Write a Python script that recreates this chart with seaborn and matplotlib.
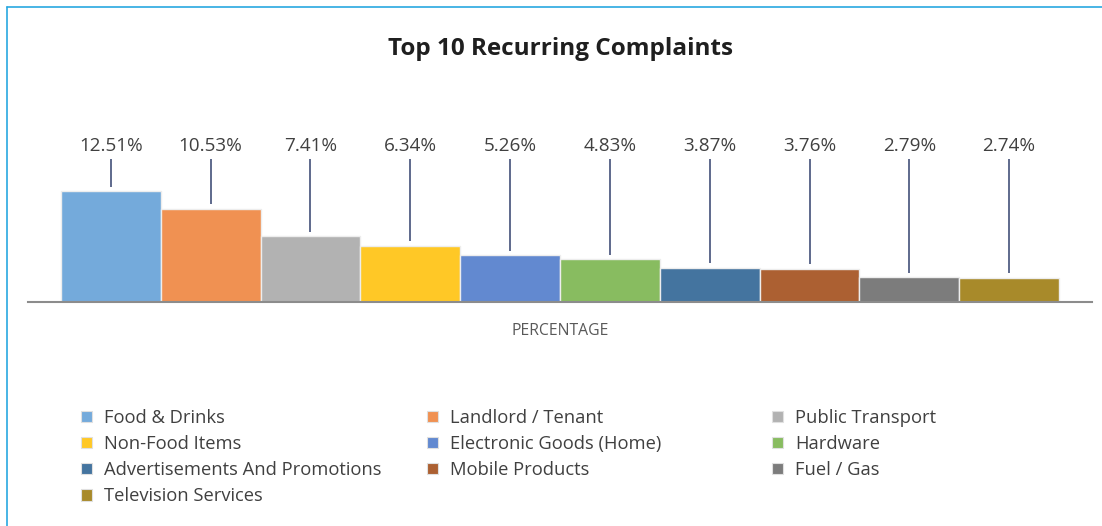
import matplotlib.pyplot as plt
import pandas as pd
import seaborn as sns
from matplotlib.patches import Patch
from matplotlib.lines import Line2D

# chart data
categories = ['Food & Drinks', 'Landlord / Tenant', 'Public Transport', 'Non-Food Items',
              'Electronic Goods (Home)', 'Hardware', 'Advertisements And Promotions',
              'Mobile Products', 'Fuel / Gas', 'Television Services']
values = [12.51, 10.53, 7.41, 6.34, 5.26, 4.83, 3.87, 3.76, 2.79, 2.74]
colors = ['#74AADB', '#F09152', '#B2B2B2', '#FFC826', '#6289D0',
          '#88BC60', '#44749F', '#AC6032', '#7C7C7C', '#A88A2A']
metric = 'PERCENTAGE'

df = pd.DataFrame({'metric': metric, 'category': categories, 'value': values})

sns.set_style('white')
plt.rcParams['font.family'] = ['Open Sans', 'DejaVu Sans']

W, H = 1102, 526
fig = plt.figure(figsize=(W / 100, H / 100), dpi=100)

# axes placed in pixel terms: baseline at y=302, top at y=100
ax_left, ax_right, ax_bottom, ax_top = 28, 1092, 302, 100
ax = fig.add_axes([ax_left / W, 1 - ax_bottom / H, (ax_right - ax_left) / W, (ax_bottom - ax_top) / H])
px_per_unit = 111 / 12.51
ymax = (ax_bottom - ax_top) / px_per_unit

sns.barplot(data=df, x='metric', y='value', hue='category', hue_order=categories,
            palette=colors, width=0.938, saturation=1, edgecolor='#EDEDED',
            linewidth=1, legend=False, ax=ax)
ax.set_xlim(-0.5, 0.5)
ax.set_ylim(0, ymax)

# data labels with leader lines
label_y = (ax_bottom - 146) / px_per_unit
line_top = (ax_bottom - 159) / px_per_unit
for cont in ax.containers:
    for bar in cont:
        xc = bar.get_x() + bar.get_width() / 2
        h = bar.get_height()
        ax.plot([xc, xc], [h + 0.5, line_top], color='#33416E', lw=1.1, solid_capstyle='butt')
        ax.text(xc, label_y, f'{h:.2f}%', ha='center', va='center', fontsize=13.6, color='#404040')

for s in ['top', 'right', 'left']:
    ax.spines[s].set_visible(False)
ax.spines['bottom'].set_color('#8C8C8C')
ax.spines['bottom'].set_linewidth(1.5)
ax.set_yticks([])
ax.set_xlabel('')
ax.set_ylabel('')
ax.tick_params(axis='x', length=0, pad=15, labelsize=11.3, labelcolor='#595959')

fig.text(560 / W, 1 - 49 / H, 'Top 10 Recurring Complaints', ha='center', va='center',
         fontsize=17.5, fontweight='bold', color='#1F1F1F')

# legend in three columns, filled row by row
handles = [Patch(facecolor=c, edgecolor='#E0E0E0', linewidth=0.8) for c in colors]
col_x = [81, 427, 772]
for j in range(3):
    idx = list(range(j, len(categories), 3))
    fig.legend([handles[i] for i in idx], [categories[i] for i in idx],
               loc='upper left', bbox_to_anchor=(col_x[j] / W, 1 - 409 / H),
               bbox_transform=fig.transFigure, frameon=False, fontsize=13.2,
               handlelength=0.6, handleheight=0.6, handletextpad=0.65,
               labelspacing=0.44, borderpad=0, borderaxespad=0, labelcolor='#404040')

# outer border (cyan) at top and left
fig.add_artist(Line2D([7 / W, 7 / W], [0, 1 - 7 / H], color='#29A8E0', lw=1.2, transform=fig.transFigure))
fig.add_artist(Line2D([7 / W, 1], [1 - 7 / H, 1 - 7 / H], color='#29A8E0', lw=1.2, transform=fig.transFigure))

fig.savefig('out.png', dpi=100)
